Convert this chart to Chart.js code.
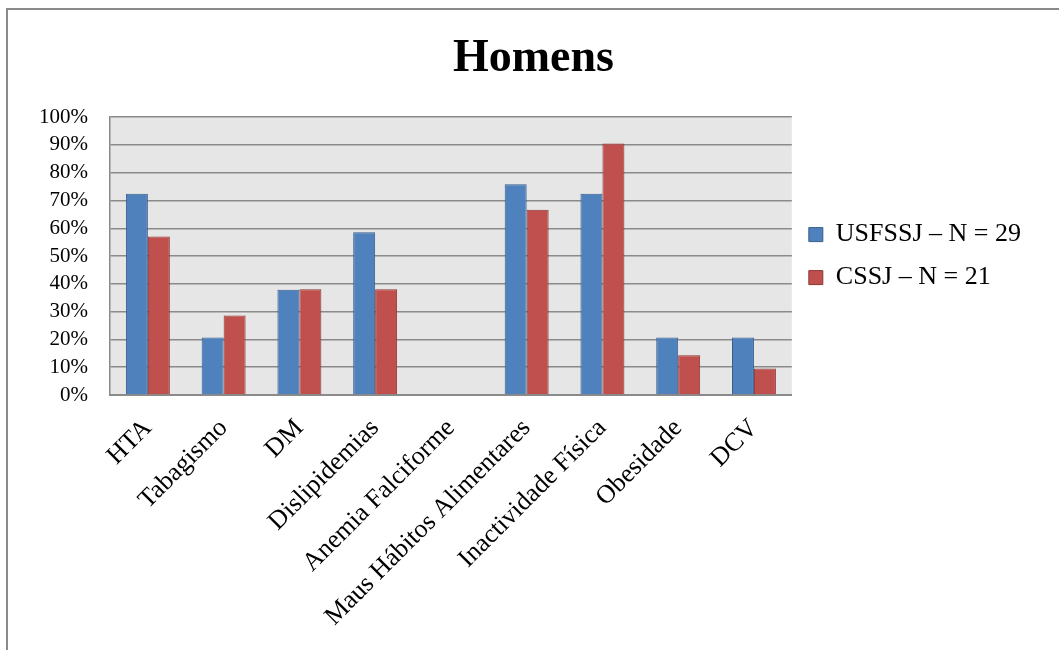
<!DOCTYPE html>
<html>
<head>
<meta charset="utf-8">
<script src="https://cdn.jsdelivr.net/npm/chart.js@4"></script>
<style>
  body { margin: 0; background: #fff; }
  #frame { position: absolute; left: 6px; top: 8px; width: 1100px; height: 700px; border: 2px solid #8a8a8a; box-sizing: border-box; }
  #wrap { position: absolute; left: 0; top: 0; width: 1059px; height: 650px; }
</style>
</head>
<body>
<div id="frame"></div>
<div id="wrap"><canvas id="myChart" width="1059" height="650"></canvas></div>
<script>
const categories = ['HTA', 'Tabagismo', 'DM', 'Dislipidemias', 'Anemia Falciforme',
  'Maus Hábitos Alimentares', 'Inactividade Física', 'Obesidade', 'DCV'];
const usfssj = [72.4, 20.7, 37.9, 58.6, 0, 75.9, 72.4, 20.7, 20.7];
const cssj = [57.1, 28.6, 38.1, 38.1, 0, 66.7, 90.5, 14.3, 9.5];
const yTicks = ['0%', '10%', '20%', '30%', '40%', '50%', '60%', '70%', '80%', '90%', '100%'];

const serif = "'Liberation Serif', 'Times New Roman', serif";

// grey plot background
const plotBg = {
  id: 'plotBg',
  beforeDraw(chart) {
    const a = chart.chartArea;
    const c = chart.ctx;
    c.save();
    c.fillStyle = '#e6e6e6';
    c.fillRect(a.left, a.top, a.right - a.left, a.bottom - a.top);
    c.restore();
  }
};

const ctx = document.getElementById('myChart').getContext('2d');
const myChart = new Chart(ctx, {
  type: 'bar',
  data: {
    labels: categories,
    datasets: [{
      label: 'USFSSJ – N = 29',
      data: usfssj,
      backgroundColor: '#4f81bd',
      borderColor: '#385d8a',
      borderWidth: 1
    }, {
      label: 'CSSJ – N = 21',
      data: cssj,
      backgroundColor: '#c0504d',
      borderColor: '#8c3836',
      borderWidth: 1
    }]
  },
  options: {
    responsive: false,
    animation: false,
    layout: { padding: { left: 36, right: 28, top: 0, bottom: 0 } },
    datasets: { bar: { categoryPercentage: 0.58, barPercentage: 1 } },
    plugins: {
      title: {
        display: true,
        text: 'Homens',
        color: '#000',
        font: { family: serif, size: 46, weight: 'bold' },
        padding: { top: 32, bottom: 30 }
      },
      legend: {
        position: 'right',
        fullSize: false,
        labels: {
          color: '#000',
          font: { family: serif, size: 26 },
          boxWidth: 14,
          boxHeight: 14,
          padding: 17
        }
      },
      tooltip: { enabled: false }
    },
    scales: {
      x: {
        grid: { display: false },
        border: { color: '#8a8a8a', width: 2 },
        ticks: {
          color: '#000',
          font: { family: serif, size: 26 },
          maxRotation: 45,
          minRotation: 45,
          autoSkip: false,
          padding: 10
        },
        afterFit(scale) { scale.height = 255; }
      },
      y: {
        min: 0,
        max: 100,
        grid: { color: '#8a8a8a', lineWidth: 1.5, drawTicks: false },
        border: { color: '#8a8a8a', width: 1.5 },
        ticks: {
          stepSize: 10,
          autoSkip: false,
          color: '#000',
          font: { family: serif, size: 21 },
          padding: 22,
          callback: function (v) { return yTicks[Math.round(v / 10)]; }
        },
        afterFit(scale) { scale.width = 74; }
      }
    }
  },
  plugins: [plotBg]
});
</script>
</body>
</html>
